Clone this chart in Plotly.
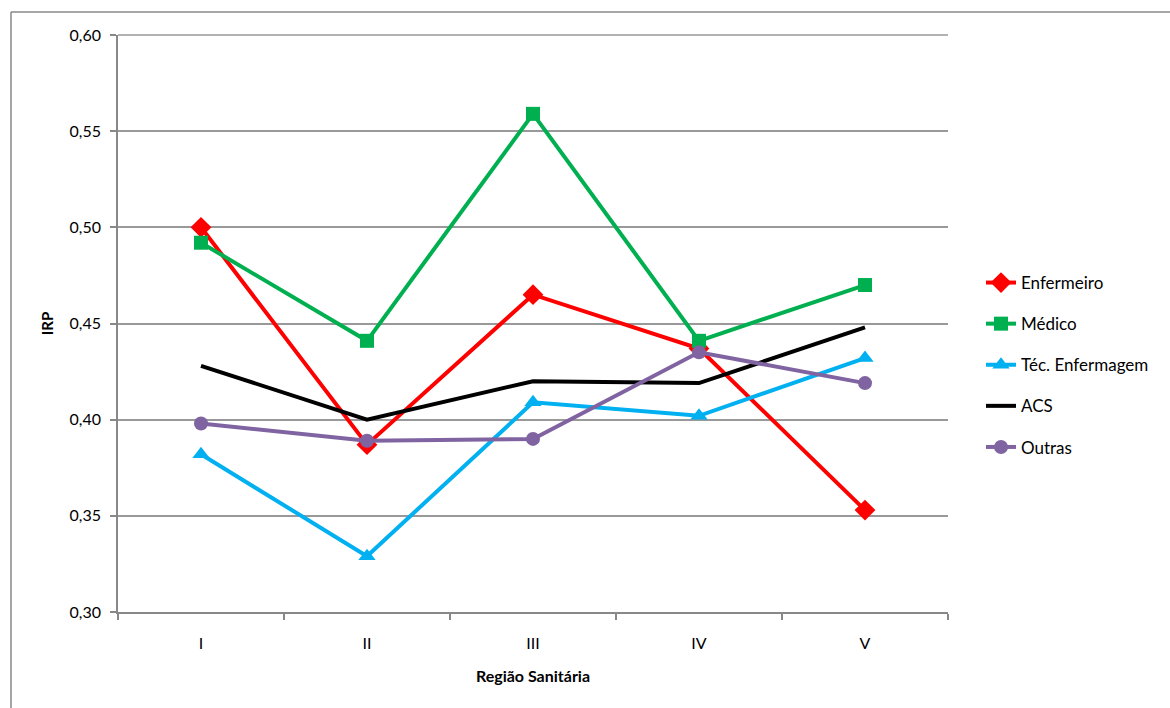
import plotly.graph_objects as go

# Regiões sanitárias e índice IRP por categoria profissional
regioes = ["I", "II", "III", "IV", "V"]
enfermeiro = [0.500, 0.387, 0.465, 0.437, 0.353]
medico = [0.492, 0.441, 0.559, 0.441, 0.470]
tec_enfermagem = [0.382, 0.329, 0.409, 0.402, 0.432]
acs = [0.428, 0.400, 0.420, 0.419, 0.448]
outras = [0.398, 0.389, 0.390, 0.435, 0.419]

series = [
    ("Enfermeiro", enfermeiro, "#FF0000", "diamond", 16),
    ("Médico", medico, "#00B050", "square", 14),
    ("Téc. Enfermagem", tec_enfermagem, "#00B0F0", "triangle-up", 15),
    ("ACS", acs, "#000000", None, 0),
    ("Outras", outras, "#8064A2", "circle", 14),
]

fig = go.Figure()
for i, (nome, valores, cor, simbolo, tam) in enumerate(series):
    fig.add_trace(go.Scatter(
        x=regioes, y=valores, name=nome,
        mode="lines+markers" if simbolo else "lines",
        line=dict(color=cor, width=4),
        marker=dict(symbol=simbolo or "circle", size=tam, color=cor),
        legendgroup=f"g{i}",
    ))

W, H = 1170, 708
L, R, T, B = 118, 222, 35, 96
pw, ph = W - L - R, H - T - B

def px_x(p):
    return (p - L) / pw

def px_y(p):
    return (H - B - p) / ph

fig.update_layout(
    width=W, height=H,
    margin=dict(l=L, r=R, t=T, b=B),
    paper_bgcolor="white", plot_bgcolor="white",
    separators=",.",
    font=dict(family="Lato, Carlito, sans-serif", size=16, color="#000000"),
    showlegend=True,
    legend=dict(
        x=px_x(981), y=px_y(265), xanchor="left", yanchor="top",
        font=dict(size=17, color="#000000"),
        tracegroupgap=16, traceorder="grouped",
        bgcolor="rgba(0,0,0,0)",
    ),
    xaxis=dict(
        type="category",
        showgrid=False,
        showline=True, linecolor="#888888", linewidth=1.5,
        ticks="outside", tickson="boundaries", ticklen=6,
        tickcolor="#888888", tickwidth=1.5,
        tickfont=dict(size=16), ticklabelstandoff=16,
        title=dict(text="<b>Região Sanitária</b>", font=dict(size=16), standoff=20),
        range=[-0.5, 4.5],
    ),
    yaxis=dict(
        range=[0.30, 0.60], dtick=0.05, tickformat=".2f",
        showgrid=True, gridcolor="#999999", gridwidth=1.5,
        showline=True, linecolor="#888888", linewidth=1.5,
        ticks="outside", ticklen=6, tickcolor="#888888", tickwidth=1.5,
        tickfont=dict(size=16), ticklabelstandoff=6,
        title=dict(text="<b>IRP</b>", font=dict(size=15), standoff=12),
        zeroline=False,
    ),
    shapes=[
        # moldura externa do gráfico
        dict(type="line", xref="paper", yref="paper",
             x0=px_x(11), x1=px_x(11), y0=px_y(720), y1=px_y(12),
             line=dict(color="#888888", width=1.5)),
        dict(type="line", xref="paper", yref="paper",
             x0=px_x(11), x1=px_x(1180), y0=px_y(12), y1=px_y(12),
             line=dict(color="#888888", width=1.5)),
        # linha superior da área de plotagem
        dict(type="line", xref="paper", yref="paper",
             x0=0, x1=1, y0=1, y1=1,
             line=dict(color="#999999", width=1.5)),
    ],
)

fig.write_html("out.html")
